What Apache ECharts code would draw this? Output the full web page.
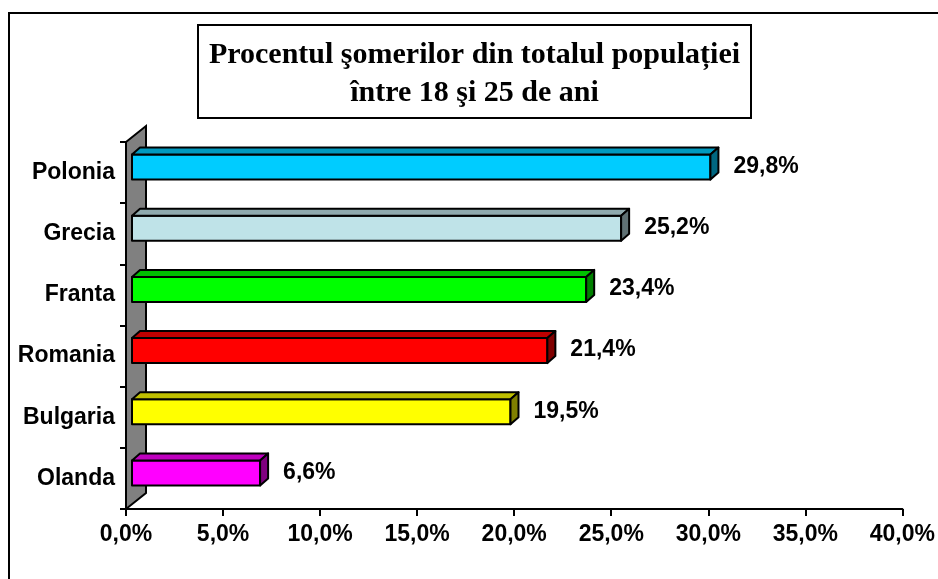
<!DOCTYPE html>
<html>
<head>
<meta charset="utf-8">
<script src="https://cdn.jsdelivr.net/npm/echarts@6/dist/echarts.min.js"></script>
<style>
  html, body { margin: 0; padding: 0; background: #fff; }
  #wrap { position: relative; width: 938px; height: 579px; overflow: hidden; }
  #frame { position: absolute; left: 8px; top: 12px; width: 960px; height: 600px; border: 2px solid #000; box-sizing: border-box; }
  #chart { position: absolute; left: 0; top: 0; width: 938px; height: 579px; }
</style>
</head>
<body>
<div id="wrap">
  <div id="frame"></div>
  <div id="chart"></div>
</div>
<script>
const countries = ["Polonia", "Grecia", "Franta", "Romania", "Bulgaria", "Olanda"];
const values = [29.8, 25.2, 23.4, 21.4, 19.5, 6.6];
// front / top / side shades, Excel style
const frontColors = ["#00CCFF", "#BFE3E8", "#00FF00", "#FF0000", "#FFFF00", "#FF00FF"];
const topColors = ["#0099BF", "#8FAAAE", "#00BF00", "#BF0000", "#BFBF00", "#BF00BF"];
const sideColors = ["#006680", "#5F7174", "#008000", "#800000", "#808000", "#800080"];
const xTicks = [0, 5, 10, 15, 20, 25, 30, 35, 40];

const fmt = (v) => v.toFixed(1).replace(".", ",") + "%";

const chart = echarts.init(document.getElementById("chart"), null, { renderer: "canvas" });

const DX = 8, DY = -7, OX = 6;

function renderBar(params, api) {
  const v = api.value(0);
  const idx = api.value(1);
  const p0 = api.coord([0, idx]);
  const p1 = api.coord([v, idx]);
  const c = p0[1];
  const x0 = p0[0] + OX, x1 = p1[0] + OX;
  const yt = c - 18, yb = c + 7;
  const line = { stroke: "#000", lineWidth: 2, lineJoin: "round" };
  return {
    type: "group",
    children: [
      { type: "rect", shape: { x: x0, y: yt, width: x1 - x0, height: yb - yt },
        style: Object.assign({ fill: frontColors[idx] }, line) },
      { type: "polygon", shape: { points: [[x0, yt], [x0 + DX, yt + DY], [x1 + DX, yt + DY], [x1, yt]] },
        style: Object.assign({ fill: topColors[idx] }, line) },
      { type: "polygon", shape: { points: [[x1, yt], [x1 + DX, yt + DY], [x1 + DX, yb + DY], [x1, yb]] },
        style: Object.assign({ fill: sideColors[idx] }, line) },
      { type: "text", style: { x: x1 + DX + 15, y: c - 6, text: fmt(v), fill: "#000",
        font: "bold 23px 'Liberation Sans', Arial, sans-serif", verticalAlign: "middle", align: "left" } }
    ]
  };
}

function renderWall(params, api) {
  const cs = params.coordSys;
  const x = cs.x, y = cs.y, h = cs.height;
  return {
    type: "polygon",
    shape: { points: [[x, y], [x + 20, y - 16], [x + 20, y + h - 16], [x, y + h]] },
    style: { fill: "#808080", stroke: "#000", lineWidth: 2 }
  };
}

chart.setOption({
  animation: false,
  backgroundColor: "transparent",
  grid: { left: 126, right: 34, top: 142, bottom: 70 },
  xAxis: {
    type: "value",
    min: 0,
    max: 40,
    interval: 5,
    splitLine: { show: false },
    axisLine: { show: true, lineStyle: { color: "#000", width: 2 } },
    axisTick: { show: true, length: 7, lineStyle: { color: "#000", width: 2 } },
    axisLabel: {
      margin: 14,
      color: "#000",
      fontSize: 23,
      fontWeight: "bold",
      fontFamily: "'Liberation Sans', Arial, sans-serif",
      formatter: (v) => xTicks.includes(v) ? fmt(v) : ""
    }
  },
  yAxis: {
    type: "category",
    inverse: true,
    data: countries,
    axisLine: { show: true, lineStyle: { color: "#000", width: 2 } },
    axisTick: { show: true, length: 6, lineStyle: { color: "#000", width: 2 } },
    axisLabel: {
      margin: 11,
      color: "#000",
      fontSize: 23,
      fontWeight: "bold",
      fontFamily: "'Liberation Sans', Arial, sans-serif"
    }
  },
  graphic: [
    {
      type: "group",
      children: [
        { type: "rect", shape: { x: 198, y: 25, width: 553, height: 93 },
          style: { fill: "#fff", stroke: "#000", lineWidth: 2 } },
        { type: "text", style: {
            x: 474.5, y: 74,
            text: "Procentul şomerilor din totalul populației\nîntre 18 şi 25 de ani",
            font: "bold 30px 'Liberation Serif', 'Times New Roman', serif",
            lineHeight: 38, align: "center", verticalAlign: "middle", fill: "#000" } }
      ]
    }
  ],
  series: [
    {
      type: "custom",
      name: "wall",
      z: 1,
      silent: true,
      renderItem: renderWall,
      data: [[0, 0]]
    },
    {
      type: "custom",
      name: "bars",
      z: 3,
      renderItem: renderBar,
      encode: { x: 0, y: 1 },
      data: values.map((v, i) => [v, i])
    }
  ]
});
</script>
</body>
</html>
